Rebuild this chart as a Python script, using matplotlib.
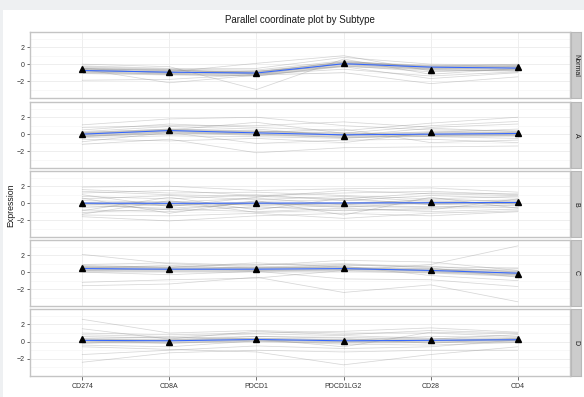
import numpy as np
import matplotlib
matplotlib.use("Agg")
import matplotlib.pyplot as plt

plt.rcParams["font.family"] = ["Liberation Sans", "DejaVu Sans"]

genes = ["CD274", "CD8A", "PDCD1", "PDCD1LG2", "CD28", "CD4"]
subtypes = ["Normal", "A", "B", "C", "D"]

# per-sample expression profiles (one row per sample)
normal_samples = [
    [-0.3, -0.6, -0.7, 0.4, -0.4, -0.2],
    [-0.5, -0.8, -0.9, 0.2, -0.5, -0.3],
    [-0.7, -1.0, -1.1, 0.0, -0.6, -0.4],
    [-0.2, -0.5, -0.5, 0.8, 0.0, -0.1],
    [-0.9, -1.2, -1.4, -0.2, -0.9, -0.6],
    [-0.4, -0.7, -1.0, 0.3, -0.3, 0.0],
    [-1.9, -1.8, -1.2, -0.6, -1.4, -0.9],
    [-0.6, -2.2, -1.3, -1.0, -2.3, -1.5],
    [0.0, -0.3, -3.0, 0.6, -1.2, -0.5],
    [-0.8, -0.9, 0.1, 1.0, -0.8, -0.7],
    [-0.5, -1.1, -0.8, -0.3, -1.7, -1.0],
    [-0.6, -0.6, -1.2, 0.1, -0.2, -0.2],
]
a_samples = [
    [0.2, 0.6, 0.4, -0.1, 0.3, 0.2],
    [-0.3, 0.3, 0.0, -0.4, -0.2, 0.0],
    [1.1, 1.8, 2.0, 1.0, 0.5, 0.4],
    [-1.2, -0.6, -2.2, -1.6, -1.5, -1.4],
    [0.5, 1.2, 0.8, 0.4, 1.3, 2.0],
    [-0.6, -0.8, -0.5, -1.0, 0.2, 0.6],
    [0.0, 0.4, 0.3, 0.2, -0.3, -0.5],
    [0.8, 1.0, 1.0, 1.45, 0.8, 1.2],
    [-0.9, 0.2, -1.1, -0.7, -0.6, -1.0],
    [0.3, 0.9, 0.6, -0.2, 0.7, 0.3],
    [-0.4, -0.2, -0.3, -0.5, 0.0, -0.2],
    [0.1, 0.5, 1.4, 0.1, 1.0, 1.5],
    [-0.2, 0.0, 0.2, 0.6, -1.0, -0.7],
]
b_samples = [
    [1.9, 2.0, 1.5, 1.7, 1.8, 1.3],
    [1.6, 1.2, 1.3, 0.9, 0.5, 0.8],
    [1.2, 1.5, 0.9, 1.2, 1.4, 1.0],
    [0.8, 0.5, 1.0, 0.3, 0.9, 0.6],
    [0.5, 0.9, 0.4, 0.8, 0.2, 0.4],
    [0.3, 0.1, 0.6, -0.2, 0.5, 0.2],
    [0.1, -0.3, 0.2, 0.4, -0.1, 0.3],
    [-0.1, 0.2, -0.3, 0.0, 0.3, -0.1],
    [-0.3, -0.6, 0.0, -0.5, 0.1, 0.0],
    [-0.5, -0.2, -0.6, -0.3, -0.4, -0.3],
    [-0.8, -1.0, -0.4, -0.9, -0.6, -0.5],
    [-1.1, -0.7, -1.0, -0.6, -1.0, -0.7],
    [-1.4, -1.5, -1.2, -1.8, -1.2, -0.9],
    [-1.6, -2.1, -1.5, -1.2, -1.5, -1.0],
    [1.0, -0.4, 0.7, 1.5, 1.1, 0.9],
    [-0.9, 0.7, -0.8, 0.6, -0.2, 0.1],
    [0.6, -1.2, 0.3, -1.4, 0.7, -0.6],
    [-1.3, 0.3, -1.1, -0.8, -0.8, 0.5],
    [1.4, 1.0, 0.8, 0.5, 1.2, 1.1],
    [0.0, -0.8, 0.1, -0.4, -0.5, -0.2],
]
c_samples = [
    [2.1, 1.0, 0.6, 0.9, 0.5, -0.6],
    [0.9, 1.1, 0.8, 1.4, 1.2, 0.2],
    [0.6, 0.5, 0.5, 0.8, 0.7, 0.0],
    [0.4, 0.3, 0.6, 0.5, 0.1, -0.3],
    [0.7, 0.6, 1.1, 0.6, 0.2, 0.4],
    [0.2, 0.4, 0.2, 0.3, 0.4, -0.2],
    [-1.2, -0.9, -0.7, 0.2, 0.9, 3.1],
    [-1.6, -1.4, -0.6, -2.4, -1.5, -3.5],
    [0.5, 0.8, 0.4, 0.7, -0.4, -1.0],
    [0.0, -0.3, 0.1, -0.8, -0.9, -1.7],
    [0.8, 0.6, 0.9, 1.0, 0.6, 0.5],
]
d_samples = [
    [2.6, 1.0, 1.3, 1.0, 1.0, 0.6],
    [-2.4, -1.3, -1.0, -1.2, -1.0, -1.0],
    [1.0, 0.8, 1.0, 1.2, 1.6, 1.1],
    [0.6, 0.4, 0.6, 0.5, 0.3, 0.8],
    [0.3, 0.1, 0.4, 0.2, 0.6, 0.5],
    [0.1, -0.2, 0.2, 0.0, 0.1, 0.3],
    [-0.4, -0.6, 0.1, -0.3, -0.4, -0.1],
    [-0.6, -0.9, -1.2, -2.7, -1.5, -0.6],
    [-1.5, -1.0, -0.5, -0.8, -0.6, 0.2],
    [0.8, 0.6, 0.9, 0.7, 0.4, 0.1],
    [0.4, 0.5, 0.3, -0.6, 1.1, 0.9],
    [-0.2, 0.2, 0.6, 0.4, -0.2, 0.4],
    [1.5, 0.3, 1.2, 0.8, 1.3, 1.0],
]

# group means (triangles)
normal_mean = [-0.6, -0.87, -1.0, 0.1, -0.7, -0.3]
a_mean = [0.0, 0.5, 0.27, -0.2, 0.27, 0.12]
b_mean = [0.0, -0.08, 0.0, 0.0, 0.08, 0.1]
c_mean = [0.55, 0.43, 0.4, 0.47, 0.24, -0.23]
d_mean = [0.3, 0.0, 0.35, 0.1, 0.2, 0.3]

# smoothed trend (blue line) and its confidence half-width
normal_fit = [-0.75, -0.95, -1.05, 0.05, -0.35, -0.47]
a_fit = [0.0, 0.43, 0.15, -0.08, 0.0, 0.08]
b_fit = [0.0, -0.02, 0.0, 0.02, 0.05, 0.08]
c_fit = [0.42, 0.35, 0.35, 0.42, 0.2, -0.12]
d_fit = [0.15, 0.1, 0.25, 0.1, 0.15, 0.22]

normal_se = [0.35, 0.32, 0.32, 0.32, 0.32, 0.35]
a_se = [0.3, 0.28, 0.28, 0.28, 0.28, 0.3]
b_se = [0.15, 0.14, 0.14, 0.14, 0.14, 0.15]
c_se = [0.32, 0.28, 0.28, 0.28, 0.3, 0.38]
d_se = [0.28, 0.25, 0.25, 0.25, 0.25, 0.28]

groups = [
    (normal_samples, normal_mean, normal_fit, normal_se),
    (a_samples, a_mean, a_fit, a_se),
    (b_samples, b_mean, b_fit, b_se),
    (c_samples, c_mean, c_fit, c_se),
    (d_samples, d_mean, d_fit, d_se),
]

W, H = 584, 397
fig = plt.figure(figsize=(W / 100, H / 100), dpi=100)
fig.patch.set_facecolor("#eef0f2")

# white page area behind the panels
bg = fig.add_axes([3 / W, 0, 1 - 3 / W, 1 - 10 / H], zorder=-10)
bg.set_facecolor("white")
bg.set_xticks([])
bg.set_yticks([])
for sp in bg.spines.values():
    sp.set_visible(False)

panel_px = [(32, 98), (102, 168), (171, 237), (240, 306), (309, 376)]
x_left, x_right = 30, 570
strip_l, strip_r = 571, 581
x = np.arange(1, len(genes) + 1)

for i, (name, (samples, mean, fit, se)) in enumerate(zip(subtypes, groups)):
    top, bot = panel_px[i]
    ax = fig.add_axes([x_left / W, 1 - bot / H, (x_right - x_left) / W, (bot - top) / H])
    ax.set_facecolor("white")
    ax.set_xlim(0.4, 6.6)
    ax.set_ylim(-4, 3.8)
    ax.set_yticks([-2, 0, 2])
    ax.set_yticks([-3, -1, 1, 3], minor=True)
    ax.set_xticks(x)
    ax.grid(which="major", color="#ebebeb", linewidth=0.6)
    ax.grid(which="minor", axis="y", color="#f5f5f5", linewidth=0.5)
    ax.set_axisbelow(True)
    for sp in ax.spines.values():
        sp.set_color("#c4c4c4")
        sp.set_linewidth(1.0)
    ax.tick_params(axis="y", which="major", length=2.5, width=0.6, color="#555555",
                   labelsize=5, labelcolor="#333333", pad=1.5)
    ax.tick_params(axis="y", which="minor", length=0)
    if i == len(subtypes) - 1:
        ax.set_xticklabels(genes)
        ax.tick_params(axis="x", length=3, width=0.6, color="#555555",
                       labelsize=5, labelcolor="#333333", pad=2)
    else:
        ax.tick_params(axis="x", length=0, labelbottom=False)

    for row in samples:
        ax.plot(x, row, color="#7a7a7a", alpha=0.3, linewidth=0.55, zorder=2)
    fit = np.array(fit)
    se = np.array(se)
    ax.fill_between(x, fit - se, fit + se, color="#999999", alpha=0.4,
                    linewidth=0, zorder=3)
    ax.plot(x, fit, color="#3366FF", linewidth=0.75, zorder=4)
    ax.plot(x, mean, linestyle="none", marker="^", color="black",
            markersize=4, zorder=5)

    sax = fig.add_axes([strip_l / W, 1 - bot / H, (strip_r - strip_l) / W, (bot - top) / H])
    sax.set_facecolor("#cccccc")
    sax.set_xticks([])
    sax.set_yticks([])
    for sp in sax.spines.values():
        sp.set_color("#b8b8b8")
        sp.set_linewidth(0.8)
    sax.text(0.5, 0.5, name, rotation=270, ha="center", va="center",
             fontsize=5, color="#1a1a1a", transform=sax.transAxes)

fig.text(300 / W, 1 - 20 / H, "Parallel coordinate plot by Subtype",
         ha="center", va="center", fontsize=7, color="#1a1a1a")
fig.text(11 / W, 1 - 205 / H, "Expression", rotation=90,
         ha="center", va="center", fontsize=6.3, color="#1a1a1a")

fig.savefig("out.png", dpi=100, facecolor=fig.get_facecolor())
